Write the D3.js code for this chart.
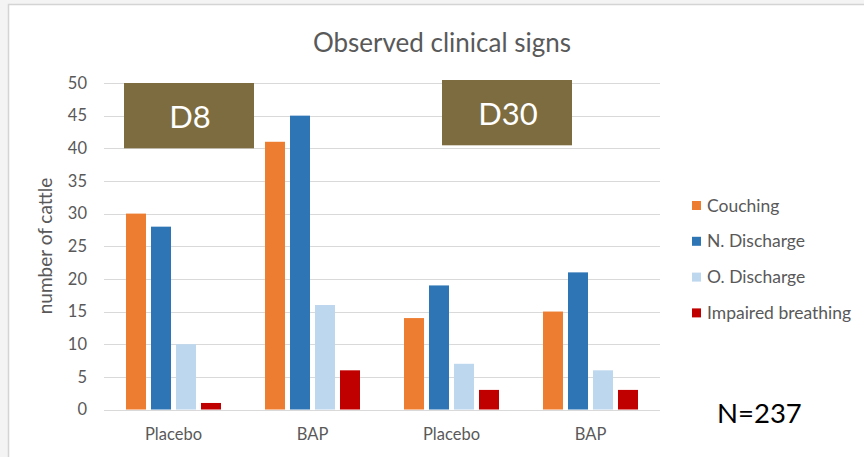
<!DOCTYPE html>
<html>
<head>
<meta charset="utf-8">
<script src="https://cdn.jsdelivr.net/npm/d3@7"></script>
<style>
  html, body { margin: 0; padding: 0; background: #f4f4f4; }
  svg { display: block; }
  text { font-family: Lato, "Open Sans", sans-serif; }
</style>
</head>
<body>
<svg id="chart" width="864" height="457"></svg>
<script>
// Observed clinical signs per group, at day 8 and day 30
const categories = ["Placebo", "BAP", "Placebo", "BAP"];
const seriesNames = ["Couching", "N. Discharge", "O. Discharge", "Impaired breathing"];
const couching = [30, 41, 14, 15];
const nDischarge = [28, 45, 19, 21];
const oDischarge = [10, 16, 7, 6];
const impairedBreathing = [1, 6, 3, 3];
const seriesColors = ["#ED7D31", "#2E75B6", "#BDD7EE", "#C00000"];
const yTicks = [0, 5, 10, 15, 20, 25, 30, 35, 40, 45, 50];
const periodLabels = ["D8", "D30"];
const sampleNote = "N=237";

const seriesValues = [couching, nDischarge, oDischarge, impairedBreathing];

const svg = d3.select("#chart");
const W = 864, H = 457;

// card frame
svg.append("rect").attr("x", 0).attr("y", 0).attr("width", W).attr("height", H).attr("fill", "#f4f4f4");
svg.append("rect").attr("x", 8.5).attr("y", 4.5).attr("width", W).attr("height", H)
  .attr("fill", "#ffffff").attr("stroke", "#d4d4d4").attr("stroke-width", 1.5);

const plot = { left: 104, right: 660, top: 83, bottom: 409.5 };

const x0 = d3.scaleBand()
  .domain(d3.range(categories.length))
  .range([plot.left, plot.right])
  .padding(0);

const x1 = d3.scaleBand()
  .domain(d3.range(seriesNames.length))
  .range([0, x0.bandwidth()])
  .paddingInner(0.2)
  .paddingOuter(0.88);

const y = d3.scaleLinear().domain([0, 50]).range([plot.bottom, plot.top]);

// gridlines
svg.append("g")
  .selectAll("line")
  .data(yTicks)
  .join("line")
  .attr("x1", plot.left).attr("x2", plot.right)
  .attr("y1", d => Math.round(y(d)) + 0.5).attr("y2", d => Math.round(y(d)) + 0.5)
  .attr("stroke", "#d9d9d9").attr("stroke-width", 1);

// y axis labels
const yAxis = d3.axisLeft(y).tickValues(yTicks).tickSize(0).tickPadding(0);
const gy = svg.append("g").attr("transform", `translate(${plot.left - 17},0)`).call(yAxis);
gy.select(".domain").remove();
gy.selectAll("text")
  .attr("fill", "#595959").style("font-size", "16.5px")
  .style("font-family", "Lato, 'Open Sans', sans-serif");

// x axis labels
const xAxis = d3.axisBottom(x0).tickFormat(i => categories[i]).tickSize(0).tickPadding(0);
const gx = svg.append("g").attr("transform", `translate(0,${plot.bottom + 19})`).call(xAxis);
gx.select(".domain").remove();
gx.selectAll("text")
  .attr("fill", "#595959").style("font-size", "16.5px")
  .style("font-family", "Lato, 'Open Sans', sans-serif");

// bars
const groups = svg.append("g")
  .selectAll("g")
  .data(categories.map((c, i) => i))
  .join("g")
  .attr("transform", i => `translate(${x0(i)},0)`);

groups.selectAll("rect")
  .data(i => seriesValues.map((vals, s) => ({ s, v: vals[i] })))
  .join("rect")
  .attr("x", d => x1(d.s))
  .attr("width", x1.bandwidth())
  .attr("y", d => y(d.v))
  .attr("height", d => y(0) - y(d.v))
  .attr("fill", d => seriesColors[d.s]);

// period annotation boxes
const periodBoxes = [
  { label: periodLabels[0], x: 124, w: 130, top: y(50), bottom: y(40) },
  { label: periodLabels[1], x: 442, w: 130, top: y(50) - 3, bottom: y(40) - 3 }
];
const pb = svg.append("g").selectAll("g").data(periodBoxes).join("g");
pb.append("rect")
  .attr("x", d => d.x).attr("y", d => d.top)
  .attr("width", d => d.w).attr("height", d => d.bottom - d.top)
  .attr("fill", "#7D6C40");
pb.append("text")
  .attr("x", d => d.x + d.w / 2 + 1).attr("y", d => (d.top + d.bottom) / 2 + 12)
  .attr("text-anchor", "middle")
  .attr("fill", "#ffffff").style("font-size", "31px")
  .text(d => d.label);

// title
svg.append("text")
  .attr("x", 442).attr("y", 52)
  .attr("text-anchor", "middle")
  .attr("fill", "#595959").style("font-size", "26px")
  .text("Observed clinical signs");

// y axis title
svg.append("text")
  .attr("transform", "translate(52,246) rotate(-90)")
  .attr("text-anchor", "middle")
  .attr("fill", "#595959").style("font-size", "19px")
  .text("number of cattle");

// legend
const legend = svg.append("g").selectAll("g")
  .data(seriesNames)
  .join("g")
  .attr("transform", (d, i) => `translate(692,${205.5 + i * 35.8})`);
legend.append("rect")
  .attr("x", 0).attr("y", -4.5).attr("width", 9).attr("height", 9)
  .attr("fill", (d, i) => seriesColors[i]);
legend.append("text")
  .attr("x", 15).attr("y", 6)
  .attr("fill", "#595959").style("font-size", "17.5px")
  .text(d => d);

// sample size note
svg.append("text")
  .attr("x", 717).attr("y", 423)
  .attr("fill", "#000000").style("font-size", "27.5px")
  .text(sampleNote);
</script>
</body>
</html>
